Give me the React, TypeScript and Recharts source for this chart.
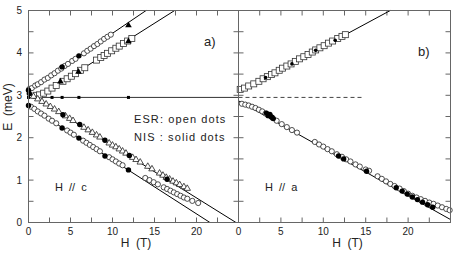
import { ComposedChart, Scatter, XAxis, YAxis } from "recharts";

type P = [number, number];

// ---- panel a) H // c ----
const cUpperEsr: P[] = [
  [0.1, 3.15], [0.4, 3.17], [0.8, 3.23], [1.1, 3.26], [1.5, 3.31], [1.9, 3.37],
  [2.3, 3.41], [2.7, 3.47], [3.1, 3.52], [3.5, 3.58], [3.9, 3.63], [4.3, 3.69],
  [4.7, 3.74], [5.2, 3.81], [5.6, 3.86], [6.6, 3.99], [7.0, 4.05], [7.4, 4.1],
  [7.8, 4.16], [8.2, 4.21], [8.6, 4.27], [9.0, 4.33], [9.4, 4.38], [9.8, 4.43],
];
const cUpperNis: P[] = [[0.0, 3.12], [4.0, 3.67], [6.0, 3.93]];
const cUpperNisTri: P[] = [[11.9, 4.66]];

const cSecondEsr: P[] = [
  [0.9, 3.0], [1.3, 3.01], [1.8, 3.05], [2.3, 3.1], [2.8, 3.17], [3.3, 3.23],
  [4.1, 3.33], [4.6, 3.39], [5.1, 3.45], [5.6, 3.51], [6.2, 3.59], [6.7, 3.65],
  [8.1, 3.83], [8.6, 3.89], [9.0, 3.94], [9.4, 3.99], [9.9, 4.05], [10.4, 4.11],
  [10.8, 4.16], [11.3, 4.22], [11.8, 4.28], [12.3, 4.34],
];
const cSecondNis: P[] = [[3.8, 3.33], [5.95, 3.56], [11.9, 4.28]];

const cFlatNis: P[] = [[0, 2.95], [2.8, 2.95], [4.0, 2.95], [6.0, 2.95], [11.9, 2.95]];

const cLowerEsr: P[] = [
  [0.6, 2.98], [1.1, 2.92], [1.6, 2.86], [2.1, 2.8], [2.6, 2.74], [3.1, 2.68],
  [3.6, 2.62], [4.4, 2.52], [4.9, 2.46], [5.3, 2.41], [6.6, 2.25], [7.1, 2.19],
  [7.6, 2.13], [8.1, 2.07], [8.5, 2.02], [9.6, 1.88], [10.0, 1.83], [10.4, 1.79],
  [10.8, 1.74], [11.2, 1.69], [11.6, 1.64], [12.4, 1.54], [12.8, 1.49], [13.3, 1.43],
  [14.2, 1.33], [14.7, 1.27], [15.6, 1.17], [16.0, 1.12], [16.4, 1.07], [16.8, 1.03],
  [17.2, 0.98], [17.6, 0.94], [18.0, 0.9], [18.5, 0.85], [18.9, 0.81],
];
const cLowerNis: P[] = [[0.1, 3.04], [4.1, 2.54], [6.1, 2.31], [9.1, 1.94], [12.0, 1.58], [16.5, 1.02]];

const cLowestEsr: P[] = [
  [0.3, 2.73], [0.7, 2.68], [1.1, 2.62], [1.5, 2.57], [1.9, 2.52], [2.4, 2.45],
  [2.8, 2.4], [3.3, 2.34], [4.6, 2.17], [5.0, 2.12], [5.4, 2.07], [6.5, 1.93],
  [6.9, 1.88], [7.3, 1.83], [7.7, 1.78], [8.1, 1.73], [8.5, 1.68], [9.6, 1.54],
  [10.0, 1.49], [10.4, 1.44], [10.8, 1.39], [11.2, 1.35], [13.9, 1.05], [14.4, 1.0],
  [14.9, 0.95], [15.4, 0.9], [16.1, 0.83], [16.5, 0.79], [16.9, 0.75], [17.3, 0.71],
  [17.7, 0.67], [18.1, 0.63], [18.5, 0.59], [18.9, 0.56], [19.5, 0.51], [20.2, 0.46],
];
const cLowestNis: P[] = [[0.0, 2.76], [4.0, 2.23], [6.0, 1.99], [9.1, 1.57], [11.9, 1.24]];

const cFitUpper: P[] = [[0, 3.12], [14.0, 5.0]];
const cFitSecond: P[] = [[0.8, 2.92], [17.4, 5.0]];
const cFitFlat: P[] = [[0, 2.95], [25, 2.95]];
const cFitLower: P[] = [[0, 3.05], [24.7, 0]];
const cFitLowest: P[] = [[0, 2.75], [21.6, 0]];

// ---- panel b) H // a ----
const aUpperEsr: P[] = [
  [0.2, 3.14], [0.7, 3.17], [1.2, 3.22], [1.8, 3.27], [2.4, 3.33], [2.9, 3.39],
  [3.4, 3.44], [3.9, 3.49], [4.3, 3.53], [4.8, 3.59], [5.2, 3.64], [5.7, 3.69],
  [6.2, 3.74], [6.7, 3.8], [7.2, 3.86], [7.7, 3.91], [8.2, 3.96], [8.7, 4.02],
  [9.1, 4.07], [9.6, 4.12], [10.1, 4.17], [10.6, 4.23], [11.1, 4.28], [11.7, 4.34],
  [12.2, 4.39], [12.6, 4.43],
];
const aUpperNis: P[] = [[3.2, 3.42], [6.3, 3.74], [9.1, 4.06], [11.4, 4.3]];

const aLowerEsr: P[] = [
  [0.4, 2.8], [0.8, 2.78], [1.2, 2.76], [1.6, 2.73], [2.0, 2.7], [2.4, 2.66],
  [2.8, 2.62], [3.2, 2.57], [3.6, 2.53], [4.0, 2.47], [4.5, 2.4], [5.1, 2.32],
  [5.7, 2.25], [6.3, 2.18], [6.9, 2.12], [9.0, 1.9], [9.5, 1.84], [10.0, 1.79],
  [10.5, 1.73], [11.0, 1.68], [11.6, 1.61], [12.2, 1.55], [12.7, 1.49], [13.2, 1.44],
  [13.8, 1.37], [14.3, 1.32], [15.0, 1.25], [15.4, 1.22], [16.4, 1.09], [16.9, 1.03],
  [17.4, 0.97], [17.9, 0.91], [18.4, 0.86], [19.0, 0.8], [19.5, 0.74], [20.0, 0.68],
  [20.5, 0.63], [21.0, 0.59], [21.5, 0.55], [22.0, 0.51], [22.5, 0.47], [23.0, 0.44],
  [23.5, 0.4], [24.0, 0.36], [24.5, 0.32], [24.9, 0.29],
];
const aLowerNis: P[] = [
  [3.3, 2.58], [3.5, 2.52], [3.7, 2.55], [3.9, 2.49], [4.1, 2.45], [11.8, 1.57],
  [12.4, 1.5], [15.1, 1.21], [18.6, 0.82], [19.3, 0.74], [19.9, 0.67], [20.5, 0.6],
  [21.1, 0.54], [21.7, 0.48], [22.3, 0.42], [22.9, 0.36],
];

const aFitUpper: P[] = [[0, 3.07], [17.9, 5.0]];
const aFitFlat: P[] = [[0, 2.95], [14.6, 2.95]];
const aFitLower: P[] = [[0, 2.87], [25, 0.07]];

const hTicks = [0, 2.5, 5, 7.5, 10, 12.5, 15, 17.5, 20, 22.5, 25];
const eTicks = [0, 0.5, 1, 1.5, 2, 2.5, 3, 3.5, 4, 4.5, 5];
const H_MAX = 25;
const E_MAX = 5;

// inward tick marks placed through the chart scales
const bottomTicks: P[] = hTicks.map((h) => [h, 0]);
const topTicks: P[] = hTicks.map((h) => [h, E_MAX]);
const leftTicks: P[] = eTicks.map((e) => [0, e]);
const rightTicks: P[] = eTicks.map((e) => [H_MAX, e]);

const pts = (a: P[]) => a.map(([h, e]) => ({ h, e }));

const FRAME = "#666";
const INK = "#222";

const OpenCircle = (p: any) => (
  <circle cx={p.cx} cy={p.cy} r={2.6} fill="#fff" stroke={INK} strokeWidth={0.8} />
);
const SolidDot = (p: any) => <circle cx={p.cx} cy={p.cy} r={2.7} fill="#000" />;
const SmallDot = (p: any) => <circle cx={p.cx} cy={p.cy} r={1.8} fill="#000" />;
const OpenSquare = (p: any) => (
  <rect x={p.cx - 3} y={p.cy - 3} width={6} height={6} fill="#fff" stroke="#333" strokeWidth={0.8} />
);
const SmallSquare = (p: any) => <rect x={p.cx - 1.5} y={p.cy - 1.5} width={3} height={3} fill="#000" />;
const OpenTri = (p: any) => (
  <path
    d={`M${p.cx},${p.cy - 3.3}L${p.cx + 3.2},${p.cy + 2.2}L${p.cx - 3.2},${p.cy + 2.2}Z`}
    fill="#fff"
    stroke={INK}
    strokeWidth={0.8}
  />
);
const SolidTri = (p: any) => (
  <path d={`M${p.cx},${p.cy - 3.5}L${p.cx + 3.3},${p.cy + 2.3}L${p.cx - 3.3},${p.cy + 2.3}Z`} fill="#000" />
);
const NoMark = () => <g />;

const TickUp = (p: any) => (
  <rect x={p.cx - 0.5} y={p.cy - 5} width={1} height={5} fill={FRAME} />
);
const TickDown = (p: any) => (
  <rect x={p.cx - 0.5} y={p.cy} width={1} height={5} fill={FRAME} />
);
const TickRight = (p: any) => (
  <rect x={p.cx} y={p.cy - 0.5} width={5} height={1} fill={FRAME} />
);
const TickLeft = (p: any) => (
  <rect x={p.cx - 5} y={p.cy - 0.5} width={5} height={1} fill={FRAME} />
);

const fmtH = (v: number) => (v % 5 === 0 && v < 25 ? String(v) : "");
const fmtE = (v: number) => (Number.isInteger(v) ? String(v) : "");

const lineStyle = { stroke: "#000", strokeWidth: 1 };
const dashStyle = { stroke: "#444", strokeWidth: 1, strokeDasharray: "4 3" };

const txt: React.CSSProperties = {
  position: "absolute",
  color: INK,
  lineHeight: 1,
  whiteSpace: "pre",
};

const frameBox: React.CSSProperties = {
  position: "absolute",
  boxSizing: "border-box",
  border: `1px solid ${FRAME}`,
  pointerEvents: "none",
};

function tickSeries() {
  return [
    <Scatter key="tb" data={pts(bottomTicks)} shape={TickUp} isAnimationActive={false} />,
    <Scatter key="tt" data={pts(topTicks)} shape={TickDown} isAnimationActive={false} />,
    <Scatter key="tl" data={pts(leftTicks)} shape={TickRight} isAnimationActive={false} />,
    <Scatter key="tr" data={pts(rightTicks)} shape={TickLeft} isAnimationActive={false} />,
  ];
}

export default function App() {
  return (
    <div
      style={{
        position: "absolute",
        left: 0,
        top: 0,
        width: 463,
        height: 255,
        background: "#fff",
        fontFamily: '"Liberation Sans", Arial, sans-serif',
      }}
    >
      <div style={{ position: "absolute", left: 0, top: 0 }}>
        <ComposedChart width={239} height={255} margin={{ top: 10.5, right: 0.5, bottom: 0, left: 0 }}>
          <XAxis type="number" dataKey="h" domain={[0, H_MAX]} ticks={hTicks} interval={0} tickFormatter={fmtH}
            tickSize={-5} tickMargin={10} height={32.5} stroke={INK} fontSize={10} axisLine={false} tickLine={false} />
          <YAxis type="number" dataKey="e" domain={[0, E_MAX]} ticks={eTicks} interval={0} tickFormatter={fmtE}
            tickSize={-5} tickMargin={11.5} width={28.5} stroke={INK} fontSize={10} axisLine={false} tickLine={false} />
          {tickSeries()}
          <Scatter data={pts(cFitUpper)} shape={NoMark} line={lineStyle} isAnimationActive={false} />
          <Scatter data={pts(cFitSecond)} shape={NoMark} line={lineStyle} isAnimationActive={false} />
          <Scatter data={pts(cFitFlat)} shape={NoMark} line={{ stroke: "#333", strokeWidth: 1 }} isAnimationActive={false} />
          <Scatter data={pts(cFitLower)} shape={NoMark} line={lineStyle} isAnimationActive={false} />
          <Scatter data={pts(cFitLowest)} shape={NoMark} line={lineStyle} isAnimationActive={false} />
          <Scatter data={pts(cUpperEsr)} shape={OpenCircle} isAnimationActive={false} />
          <Scatter data={pts(cSecondEsr)} shape={OpenSquare} isAnimationActive={false} />
          <Scatter data={pts(cLowerEsr)} shape={OpenTri} isAnimationActive={false} />
          <Scatter data={pts(cLowestEsr)} shape={OpenCircle} isAnimationActive={false} />
          <Scatter data={pts(cFlatNis)} shape={SmallSquare} isAnimationActive={false} />
          <Scatter data={pts(cUpperNis)} shape={SolidDot} isAnimationActive={false} />
          <Scatter data={pts(cUpperNisTri)} shape={SolidTri} isAnimationActive={false} />
          <Scatter data={pts(cSecondNis)} shape={SolidTri} isAnimationActive={false} />
          <Scatter data={pts(cLowerNis)} shape={SolidDot} isAnimationActive={false} />
          <Scatter data={pts(cLowestNis)} shape={SolidDot} isAnimationActive={false} />
        </ComposedChart>
      </div>
      <div style={{ position: "absolute", left: 225, top: 0 }}>
        <ComposedChart width={238} height={255} margin={{ top: 10.5, right: 12.5, bottom: 0, left: 0 }}>
          <XAxis type="number" dataKey="h" domain={[0, H_MAX]} ticks={hTicks} interval={0} tickFormatter={fmtH}
            tickSize={-5} tickMargin={10} height={32.5} stroke={INK} fontSize={10} axisLine={false} tickLine={false} />
          <YAxis type="number" dataKey="e" domain={[0, E_MAX]} ticks={eTicks} interval={0}
            width={13.5} stroke={INK} tick={false} axisLine={false} tickLine={false} />
          {tickSeries()}
          <Scatter data={pts(aFitUpper)} shape={NoMark} line={lineStyle} isAnimationActive={false} />
          <Scatter data={pts(aFitFlat)} shape={NoMark} line={dashStyle} isAnimationActive={false} />
          <Scatter data={pts(aFitLower)} shape={NoMark} line={lineStyle} isAnimationActive={false} />
          <Scatter data={pts(aUpperEsr)} shape={OpenSquare} isAnimationActive={false} />
          <Scatter data={pts(aLowerEsr)} shape={OpenCircle} isAnimationActive={false} />
          <Scatter data={pts(aUpperNis)} shape={SmallDot} isAnimationActive={false} />
          <Scatter data={pts(aLowerNis)} shape={SolidDot} isAnimationActive={false} />
        </ComposedChart>
      </div>

      {/* panel frames */}
      <div style={{ ...frameBox, left: 28, top: 10, width: 211, height: 213 }} />
      <div style={{ ...frameBox, left: 238, top: 10, width: 213, height: 213 }} />

      <div
        style={{
          ...txt,
          left: -22.5,
          top: 100,
          width: 60,
          height: 14,
          lineHeight: "14px",
          textAlign: "center",
          fontSize: 12,
          transform: "rotate(-90deg)",
        }}
      >
        {"E  (meV)"}
      </div>
      <div style={{ ...txt, left: 106, top: 237, width: 60, textAlign: "center", fontSize: 12 }}>{"H  (T)"}</div>
      <div style={{ ...txt, left: 317.5, top: 237, width: 60, textAlign: "center", fontSize: 12 }}>{"H  (T)"}</div>
      <div style={{ ...txt, left: 204, top: 35, fontSize: 13 }}>a)</div>
      <div style={{ ...txt, left: 418, top: 45, fontSize: 13 }}>b)</div>
      <div style={{ ...txt, left: 134, top: 113.5, fontSize: 11, letterSpacing: 1.1 }}>ESR: open dots</div>
      <div style={{ ...txt, left: 134, top: 132, fontSize: 11, letterSpacing: 1.1 }}>NIS : solid dots</div>
      <div style={{ ...txt, left: 55, top: 181.5, fontSize: 11 }}>{"H  //  c"}</div>
      <div style={{ ...txt, left: 265, top: 181.5, fontSize: 11 }}>{"H  //  a"}</div>
    </div>
  );
}
